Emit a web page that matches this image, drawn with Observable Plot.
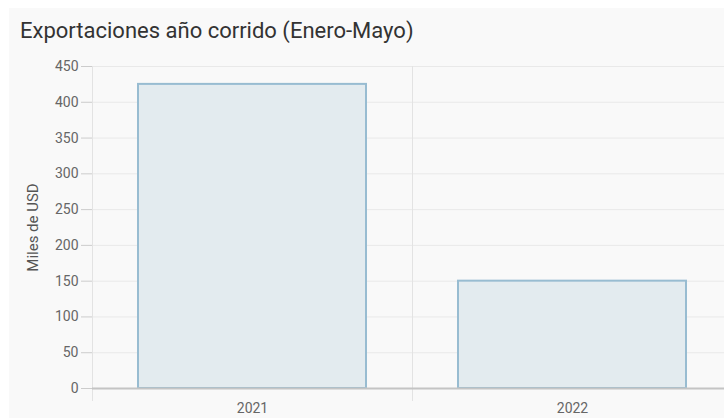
<!DOCTYPE html>
<html><head><meta charset="utf-8">
<script src="https://cdn.jsdelivr.net/npm/d3@7"></script>
<script src="https://cdn.jsdelivr.net/npm/@observablehq/plot@0.6"></script>
<style>
html,body{margin:0;padding:0;background:#fff;width:724px;height:418px;overflow:hidden;font-family:Roboto,"Noto Sans",sans-serif;}
#panel{position:absolute;left:9px;top:8px;width:715px;height:410px;background:#f9f9f9;overflow:hidden;}
#title{position:absolute;left:11px;top:10px;font-size:22px;color:#333;white-space:nowrap;}
#chart{position:absolute;left:0;top:42px;width:724px;}
#chart svg{max-width:none !important;}
</style></head>
<body>
<div id="panel">
<div id="title">Exportaciones año corrido (Enero-Mayo)</div>
<div id="chart"></div>
</div>
<script>
const years = ["2021", "2022"];
const values = [425, 150];
const yTicks = [0, 50, 100, 150, 200, 250, 300, 350, 400, 450];
const yLabel = "Miles de USD";

const data = years.map((y, i) => ({year: y, value: values[i]}));
const W = 724, ML = 83, MR = 1, H = 368, MT = 16, MB = 30;
const step = (W - ML - MR) / years.length;

const chart = Plot.plot({
  width: W, height: H,
  marginLeft: ML, marginRight: MR, marginTop: MT, marginBottom: MB,
  style: {background: "transparent", fontFamily: "Roboto, sans-serif", fontSize: "14px", color: "#666", overflow: "visible", maxWidth: "none"},
  x: {domain: years, padding: 0, label: null},
  y: {domain: [0, 450], label: null},
  marks: [
    Plot.ruleY(yTicks.filter(d => d > 0), {stroke: "#e9e9e9", strokeWidth: 1}),
    Plot.ruleX(years, {x: d => d, dx: -step / 2, stroke: "#e3e3e3", insetBottom: -13}),
    Plot.ruleX(years.slice(-1), {x: d => d, dx: step / 2, stroke: "#e3e3e3", insetBottom: -13}),
    Plot.barY(data, {x: "year", y: "value", fill: "#e3ebef", stroke: "#98bcd1", strokeWidth: 2, insetLeft: 46, insetRight: 46}),
    Plot.ruleY([0], {stroke: "#c4c4c4", strokeWidth: 2}),
    Plot.axisY({ticks: yTicks, tickSize: 11, tickPadding: 3, stroke: "#ccc", fill: "#666", fontSize: 14, label: null}),
    Plot.axisX({tickSize: 0, tickPadding: 15, fill: "#666", fontSize: 14, label: null}),
    Plot.text([yLabel], {frameAnchor: "left", textAnchor: "middle", rotate: -90, dx: -59, fill: "#555", fontSize: 15})
  ]
});
document.getElementById("chart").appendChild(chart);
</script>
</body></html>
